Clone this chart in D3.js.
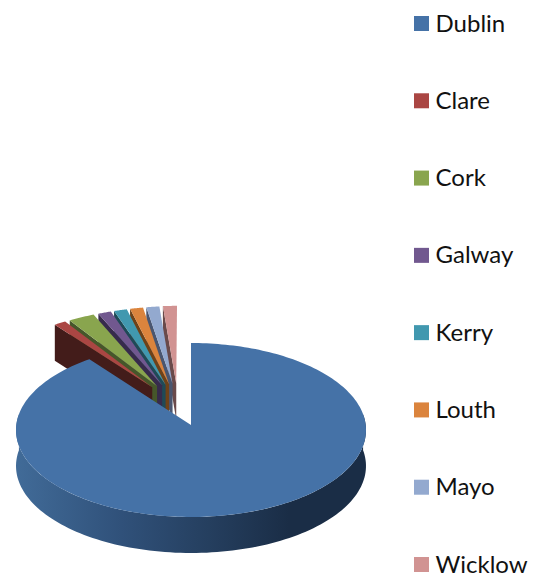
<!DOCTYPE html>
<html>
<head>
<meta charset="utf-8">
<script src="https://cdn.jsdelivr.net/npm/d3@7/dist/d3.min.js"></script>
<style>
html,body{margin:0;padding:0;background:#fff;}
svg{display:block;}
text{font-family:Lato,"Open Sans",sans-serif;fill:#111;}
</style>
</head>
<body>
<svg id="chart" width="536" height="575"></svg>
<script>
// Share of total per county, in tenths of a percent
const counties = ["Dublin","Clare","Cork","Galway","Kerry","Louth","Mayo","Wicklow"];
const shares = [896,12,26,13,13,13,13,14];
const topColors = ["#4572A7","#AA4643","#89A54E","#71588F","#4198AF","#DB843D","#93A9CF","#D19392"];
const sideColors = ["#1f3552","#431C1A","#46572A","#372B4C","#1F4A57","#6F4218","#4A5670","#6A4A4A"];

const svg = d3.select("#chart");
const TAU = Math.PI * 2;

// Tilted disc with mild perspective: unit ground coordinates to screen pixels
const view = {cx:191, cy:425, rx:174.7, ry:86.7, persp:0.0575, depth:36};
function project(gx, gy){
  const w = 1 / (1 - view.persp * gy);
  return [view.cx + view.rx * gx * w, view.cy + view.ry * gy * w];
}
const polar = (a, r, ox=0, oy=0) => [ox + r * Math.sin(a), oy - r * Math.cos(a)];
const line = d3.line();
const steps = (a0, a1, n) => d3.range(n + 1).map(i => a0 + (a1 - a0) * i / n);

const arcs = d3.pie().sort(null).startAngle(0).endAngle(TAU)(shares);

// Small slices are pulled away from the centre toward the top of the disc
function explodedOrigin(arc){
  const mid = TAU - (arc.startAngle + arc.endAngle) / 2;
  const dir = -(8.7 * Math.PI / 180 + 0.52 * mid);
  return polar(dir, 0.5);
}

// Far slices first so nearer ones overlap their side walls
const small = arcs.filter(d => d.index > 0).sort((a, b) => b.startAngle - a.startAngle);
small.forEach(arc => {
  const [ox, oy] = explodedOrigin(arc);
  const apex = project(ox, oy);
  const rimStart = project(...polar(arc.startAngle, 1, ox, oy));
  const wall = [rimStart, apex, [apex[0], apex[1] + view.depth], [rimStart[0], rimStart[1] + view.depth]];
  svg.append("path").attr("d", line(wall) + "Z").attr("fill", sideColors[arc.index]);
  const rim = steps(arc.startAngle, arc.endAngle, 12).map(a => project(...polar(a, 1, ox, oy)));
  svg.append("path").attr("d", line([apex, ...rim]) + "Z").attr("fill", topColors[arc.index]);
});

// Outer wall of the large slice, shaded from left to right
const defs = svg.append("defs");
const grad = defs.append("linearGradient").attr("id", "wallShade")
  .attr("gradientUnits", "userSpaceOnUse")
  .attr("x1", 16).attr("x2", 366).attr("y1", 0).attr("y2", 0);
[[0,"#416B98"],[0.3,"#30517A"],[0.55,"#253F5F"],[0.78,"#1A2D46"],[1,"#1A2D46"]].forEach(([o, c]) =>
  grad.append("stop").attr("offset", o).attr("stop-color", c));

const big = arcs[0];
const front = steps(Math.PI * 0.46, Math.PI * 1.54, 120).map(a => project(...polar(a, 1)));
const back = front.map(p => [p[0], p[1] + view.depth]).reverse();
svg.append("path").attr("d", line([...front, ...back]) + "Z").attr("fill", "url(#wallShade)");

const bigRim = steps(big.startAngle, big.endAngle, 240).map(a => project(...polar(a, 1)));
svg.append("path").attr("d", line([project(0, 0), ...bigRim]) + "Z").attr("fill", topColors[0]);

// Legend column
const legendY = d3.scalePoint().domain(counties).range([23.5, 564.5]);
const legend = svg.selectAll("g.legend").data(counties).join("g")
  .attr("class", "legend")
  .attr("transform", d => `translate(414,${legendY(d)})`);
legend.append("rect").attr("x", 0).attr("y", -7.5).attr("width", 15).attr("height", 15)
  .attr("fill", (d, i) => topColors[i]);
legend.append("text").attr("x", 21.5).attr("y", 8).attr("font-size", 24).text(d => d);
</script>
</body>
</html>
